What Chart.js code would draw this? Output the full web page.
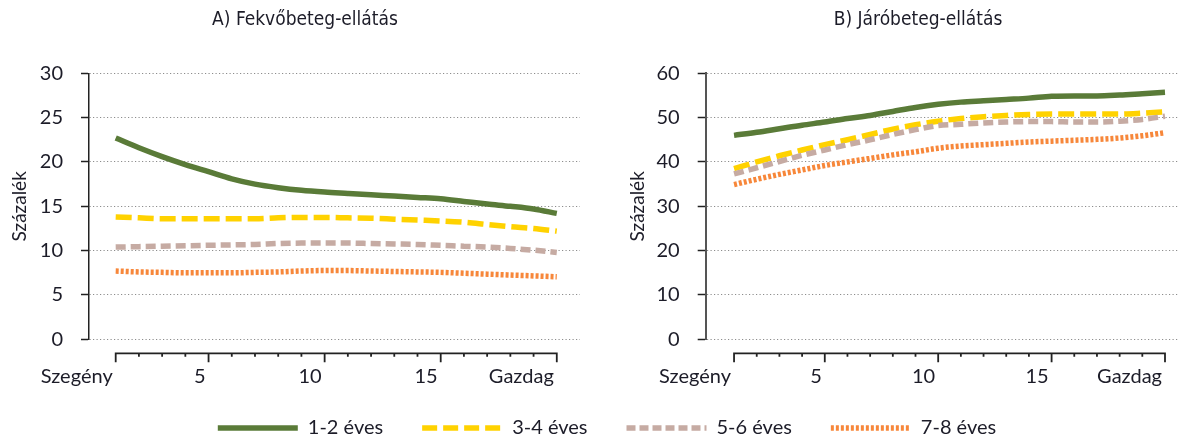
<!DOCTYPE html>
<html>
<head>
<meta charset="utf-8">
<script src="https://cdn.jsdelivr.net/npm/chart.js@4.4.1/dist/chart.umd.min.js"></script>
<style>
  html, body { margin: 0; padding: 0; background: #fff; overflow: hidden; }
  #wrap { position: relative; width: 1190px; height: 440px; }
  canvas { position: absolute; }
  #left { left: 0; top: 0; }
  #right { left: 595px; top: 0; }
  #legend { left: 22px; top: 379px; }
</style>
</head>
<body>
<div id="wrap">
  <canvas id="left" width="595" height="400"></canvas>
  <canvas id="right" width="595" height="400"></canvas>
  <canvas id="legend" width="1170" height="110"></canvas>
</div>
<script>
// income groups, poorest (1) to richest (20)
const categories = [1, 2, 3, 4, 5, 6, 7, 8, 9, 10, 11, 12, 13, 14, 15, 16, 17, 18, 19, 20];
const xTickLabels = ["Szegény", "", "", "", "5", "", "", "", "", "10", "", "", "", "", "15", "", "", "", "", "Gazdag"];
const seriesNames = ["1-2 éves", "3-4 éves", "5-6 éves", "7-8 éves"];

// A) Fekvőbeteg-ellátás
const inpatient12 = [22.7, 21.6, 20.6, 19.7, 18.9, 18.1, 17.5, 17.1, 16.8, 16.6, 16.45, 16.3, 16.15, 16.0, 15.85, 15.55, 15.25, 15.0, 14.7, 14.2];
const inpatient34 = [13.8, 13.7, 13.6, 13.6, 13.6, 13.6, 13.6, 13.7, 13.75, 13.75, 13.7, 13.65, 13.55, 13.45, 13.35, 13.2, 12.95, 12.7, 12.5, 12.2];
const inpatient56 = [10.4, 10.45, 10.5, 10.55, 10.6, 10.65, 10.7, 10.8, 10.85, 10.85, 10.85, 10.8, 10.75, 10.7, 10.6, 10.5, 10.4, 10.25, 10.05, 9.8];
const inpatient78 = [7.7, 7.6, 7.55, 7.5, 7.5, 7.5, 7.55, 7.6, 7.7, 7.75, 7.75, 7.7, 7.65, 7.6, 7.55, 7.45, 7.35, 7.25, 7.15, 7.05];

// B) Járóbeteg-ellátás
const outpatient12 = [46.0, 46.7, 47.5, 48.3, 49.0, 49.8, 50.5, 51.4, 52.3, 53.0, 53.5, 53.8, 54.1, 54.4, 54.8, 54.9, 54.9, 55.1, 55.4, 55.7];
const outpatient34 = [38.5, 40.0, 41.4, 42.7, 43.9, 45.0, 46.2, 47.4, 48.4, 49.2, 49.8, 50.2, 50.5, 50.7, 50.8, 50.8, 50.8, 50.8, 51.0, 51.3];
const outpatient56 = [37.3, 38.7, 40.1, 41.5, 42.7, 43.9, 45.0, 46.2, 47.3, 48.2, 48.5, 48.8, 49.0, 49.1, 49.1, 49.0, 49.0, 49.2, 49.6, 50.3];
const outpatient78 = [34.9, 36.1, 37.2, 38.2, 39.2, 40.0, 40.8, 41.6, 42.3, 43.1, 43.6, 43.9, 44.2, 44.5, 44.7, 44.9, 45.1, 45.4, 45.9, 46.6];

const leftTicks = [0, 5, 10, 15, 20, 25, 30];
const rightTicks = [0, 10, 20, 30, 40, 50, 60];

const lineStyles = [
  { color: "#5a7b38", dash: [] },
  { color: "#ffd200", dash: [16, 6] },
  { color: "#c6aba3", dash: [10, 5] },
  { color: "#f7873a", dash: [3, 2] },
];

const textColor = "#1c1c28";
const narrow = "'Liberation Sans Narrow', 'DejaVu Sans Condensed', 'Arial Narrow', sans-serif";
Chart.defaults.font.family = "Lato, 'Open Sans', sans-serif";
Chart.defaults.color = textColor;

// x axis is drawn a bit below the plot, only from first to last group
const xAxisLine = {
  id: "xAxisLine",
  afterDraw(chart) {
    const xs = chart.scales.x;
    const ctx = chart.ctx;
    const y0 = chart.chartArea.bottom + 14;
    ctx.save();
    ctx.strokeStyle = "#222";
    ctx.lineWidth = 1.8;
    ctx.beginPath();
    ctx.moveTo(xs.getPixelForValue(categories[0]) - 0.9, y0);
    ctx.lineTo(xs.getPixelForValue(categories[categories.length - 1]) + 0.9, y0);
    categories.forEach((c, i) => {
      const px = xs.getPixelForValue(c);
      ctx.moveTo(px, y0);
      ctx.lineTo(px, y0 + (xTickLabels[i] ? 9 : 3.5));
    });
    ctx.stroke();
    ctx.restore();
  },
};

function panel(id, cfg) {
  const sets = cfg.series.map((vals, i) => ({
    label: seriesNames[i],
    data: categories.map((c, j) => ({ x: c, y: vals[j] })),
    borderColor: lineStyles[i].color,
    borderDash: lineStyles[i].dash,
    borderWidth: 5.5,
    borderCapStyle: "butt",
    pointRadius: 0,
    fill: false,
    cubicInterpolationMode: "monotone",
  }));
  return new Chart(document.getElementById(id), {
    type: "line",
    data: { datasets: sets.reverse() },
    plugins: [xAxisLine],
    options: {
      responsive: false,
      animation: false,
      layout: { autoPadding: false, padding: { left: cfg.padLeft, right: cfg.padRight, top: 0, bottom: 0 } },
      plugins: {
        legend: { display: false },
        tooltip: { enabled: false },
        title: {
          display: true,
          text: cfg.title,
          color: textColor,
          font: { family: narrow, size: 19, weight: "normal" },
          padding: { top: 8.6, bottom: 41.9 },
        },
      },
      scales: {
        x: {
          type: "linear",
          min: cfg.xMin,
          max: cfg.xMax,
          afterBuildTicks: (s) => { s.ticks = categories.map((v) => ({ value: v })); },
          afterFit: (s) => { s.height = 60.7; },
          grid: { display: false, drawTicks: false },
          border: { display: false },
          ticks: {
            autoSkip: false,
            maxRotation: 0,
            align: "end",
            labelOffset: -3,
            padding: 25,
            font: { size: 20 },
            color: textColor,
            callback: (v, i) => xTickLabels[i],
          },
        },
        y: {
          min: 0,
          max: cfg.ticks[cfg.ticks.length - 1],
          afterBuildTicks: (s) => { s.ticks = cfg.ticks.map((v) => ({ value: v })); },
          afterFit: (s) => { s.width = cfg.axisX - cfg.padLeft; },
          grid: {
            color: "#8c8c8c",
            lineWidth: 1,
            tickLength: 8,
            tickColor: "#222",
            tickWidth: 1.5,
            tickBorderDash: [],
          },
          border: { display: true, color: cfg.axisColor, width: cfg.axisWidth, dash: [1.2, 2.3] },
          ticks: { padding: 18, font: { size: 20 }, color: textColor },
          title: {
            display: true,
            text: "Százalék",
            color: textColor,
            font: { size: 19 },
            padding: { top: cfg.yTitlePad, bottom: 0 },
          },
        },
      },
    },
  });
}

panel("left", {
  title: "A) Fekvőbeteg-ellátás",
  series: [inpatient12, inpatient34, inpatient56, inpatient78],
  ticks: leftTicks,
  padLeft: 30,
  padRight: 15,
  axisX: 89,
  axisColor: "#222",
  axisWidth: 1.5,
  xMin: -0.15,
  xMax: 21.0,
  yTitlePad: -21.4,
});

panel("right", {
  title: "B) Járóbeteg-ellátás",
  series: [outpatient12, outpatient34, outpatient56, outpatient78],
  ticks: rightTicks,
  padLeft: 51,
  padRight: 0,
  axisX: 110.7,
  axisColor: "#555",
  axisWidth: 2,
  xMin: -0.25,
  xMax: 20.616,
  yTitlePad: -19.4,
});

// shared legend below both panels
const legendDash = [[], [15, 6], [9, 4], [3, 2]];
new Chart(document.getElementById("legend"), {
  type: "line",
  data: {
    datasets: seriesNames.map((name, i) => ({
      label: name,
      data: [],
      borderColor: lineStyles[i].color,
      backgroundColor: lineStyles[i].color,
      borderDash: lineStyles[i].dash,
      borderWidth: 5.5,
    })),
  },
  options: {
    responsive: false,
    animation: false,
    layout: { autoPadding: false },
    scales: { x: { display: false }, y: { display: false } },
    plugins: {
      tooltip: { enabled: false },
      legend: {
        display: true,
        position: "top",
        labels: {
          usePointStyle: true,
          pointStyle: "line",
          pointStyleWidth: 80,
          padding: 39,
          color: textColor,
          font: { size: 20 },
          generateLabels: (chart) =>
            Chart.defaults.plugins.legend.labels.generateLabels(chart).map((item, i) => ({
              ...item,
              strokeStyle: lineStyles[i].color,
              lineDash: legendDash[i],
              lineWidth: 5.5,
              lineCap: "butt",
            })),
        },
      },
    },
  },
});
</script>
</body>
</html>
